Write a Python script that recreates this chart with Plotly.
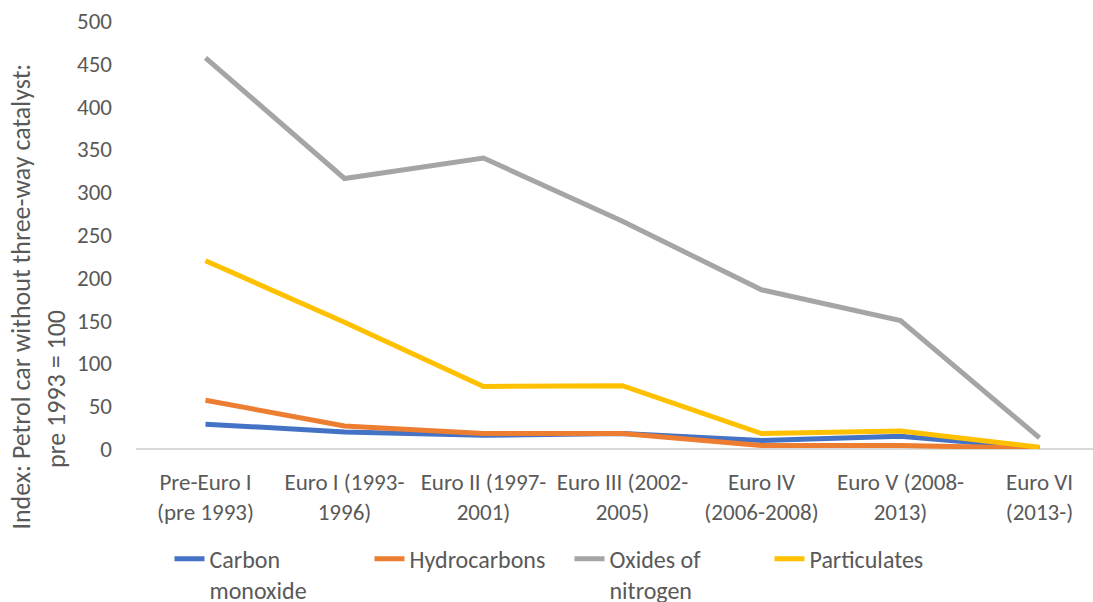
import plotly.graph_objects as go

categories = ["Pre-Euro I (pre 1993)", "Euro I (1993-1996)", "Euro II (1997-2001)",
              "Euro III (2002-2005)", "Euro IV (2006-2008)", "Euro V (2008-2013)",
              "Euro VI (2013-)"]
tick_labels = ["Pre-Euro I<br>(pre 1993)", "Euro I (1993-<br>1996)", "Euro II (1997-<br>2001)",
               "Euro III (2002-<br>2005)", "Euro IV<br>(2006-2008)", "Euro V (2008-<br>2013)",
               "Euro VI<br>(2013-)"]
y_ticks = [0, 50, 100, 150, 200, 250, 300, 350, 400, 450, 500]

carbon_monoxide = [29, 20, 16, 18, 10, 15, 1]
hydrocarbons = [57, 27, 18, 18, 4, 4, 1]
oxides_of_nitrogen = [457, 316, 340, 266, 186, 150, 13]
particulates = [220, 148, 73, 74, 18, 21, 2]

series = [
    ("Carbon<br>monoxide", carbon_monoxide, "#4472C4"),
    ("Hydrocarbons", hydrocarbons, "#ED7D31"),
    ("Oxides of<br>nitrogen", oxides_of_nitrogen, "#A5A5A5"),
    ("Particulates", particulates, "#FFC000"),
]

FONT = "Carlito, Lato, Liberation Sans, sans-serif"
TXT = "#595959"

fig = go.Figure()
x_idx = list(range(len(categories)))
for name, vals, color in series:
    fig.add_trace(go.Scatter(
        x=x_idx, y=vals, name=name, mode="lines",
        line=dict(color=color, width=5),
        customdata=categories,
        hovertemplate="%{customdata}: %{y}<extra></extra>",
    ))

fig.update_layout(
    width=1093, height=602,
    margin=dict(l=136, r=0, t=21, b=152.5, autoexpand=False),
    paper_bgcolor="white", plot_bgcolor="white",
    font=dict(family=FONT, color=TXT, size=23),
    showlegend=True,
    legend=dict(orientation="h", x=0.035, xanchor="left", y=-0.205, yanchor="top",
                font=dict(size=24, color=TXT), traceorder="normal", valign="top",
                entrywidth=155, entrywidthmode="pixels"),
    xaxis=dict(
        tickmode="array", tickvals=x_idx, ticktext=tick_labels,
        range=[-0.5, 6.385], showgrid=False, zeroline=False, automargin=False,
        showline=False, ticks="", tickfont=dict(size=23, color=TXT),
        ticklabelstandoff=17,
    ),
    yaxis=dict(
        range=[0, 500], tickvals=y_ticks, showgrid=False, automargin=False,
        zeroline=True, zerolinecolor="#D9D9D9", zerolinewidth=2,
        showline=False, ticks="", tickfont=dict(size=23, color=TXT),
        ticklabelstandoff=23,
    ),
    annotations=[
        dict(text="Index: Petrol car without three-way catalyst:",
             textangle=-90, xref="paper", yref="paper", x=-0.1202, y=0.356,
             xanchor="center", yanchor="middle", showarrow=False,
             font=dict(size=26, color=TXT, family=FONT)),
        dict(text="pre 1993 = 100",
             textangle=-90, xref="paper", yref="paper", x=-0.0840, y=0.139,
             xanchor="center", yanchor="middle", showarrow=False,
             font=dict(size=26, color=TXT, family=FONT)),
    ],
)

fig.write_html("out.html", config={"displayModeBar": False},
               post_script="document.body.style.margin='0';")
